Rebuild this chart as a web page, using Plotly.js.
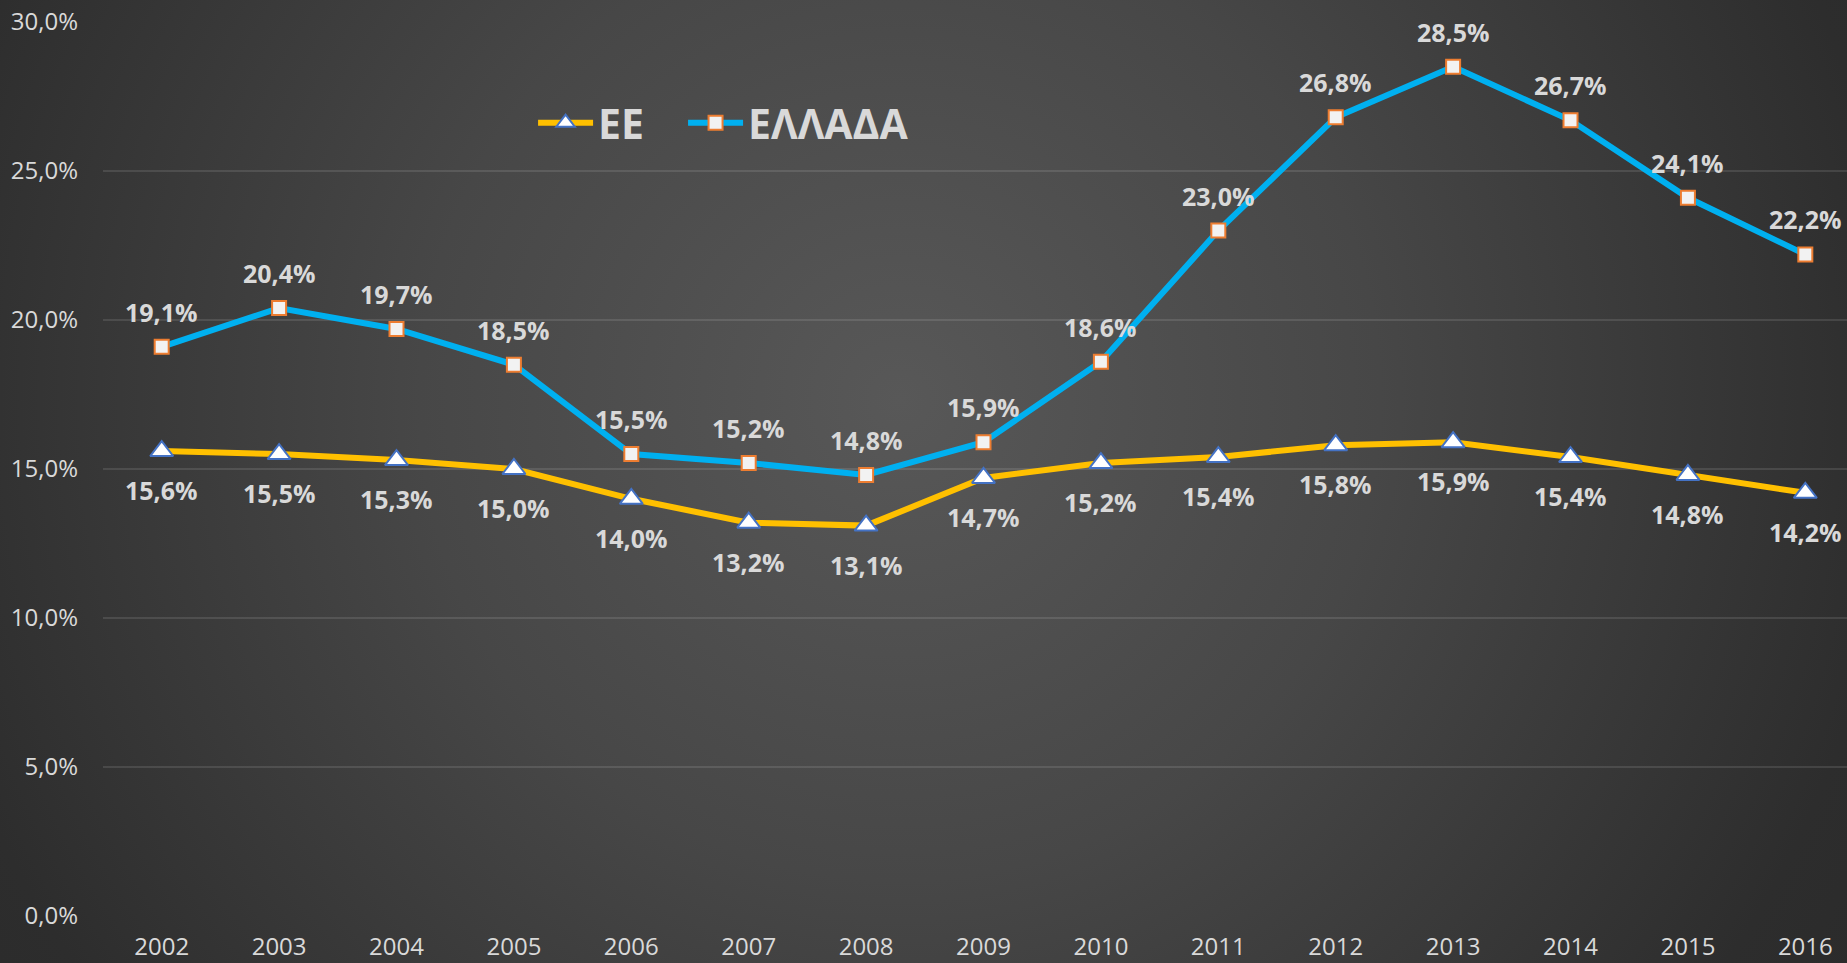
<!DOCTYPE html>
<html>
<head>
<meta charset="utf-8">
<script src="https://cdn.plot.ly/plotly-3.0.1.min.js"></script>
<style>
html, body { margin:0; padding:0; width:1847px; height:963px; overflow:hidden;
  background: radial-gradient(circle at 900px 400px, #585858 0px, #474747 480px, #2d2d2d 1000px, #282828 1300px); }
#chart { width:1847px; height:963px; }
</style>
</head>
<body>
<div id="chart"></div>
<script>
const years = ['2002','2003','2004','2005','2006','2007','2008','2009','2010','2011','2012','2013','2014','2015','2016'];
const euValues = [15.6, 15.5, 15.3, 15.0, 14.0, 13.2, 13.1, 14.7, 15.2, 15.4, 15.8, 15.9, 15.4, 14.8, 14.2];
const greeceValues = [19.1, 20.4, 19.7, 18.5, 15.5, 15.2, 14.8, 15.9, 18.6, 23.0, 26.8, 28.5, 26.7, 24.1, 22.2];
const seriesNames = ['ΕΕ', 'ΕΛΛΑΔΑ'];
const yTickVals = [0, 5, 10, 15, 20, 25, 30];

const fmt = v => v.toFixed(1).replace('.', ',') + '%';

const traces = [
  {
    x: years, y: euValues, name: seriesNames[0], type: 'scatter', mode: 'lines+markers',
    line: {color: '#FFC000', width: 6},
    marker: {symbol: 'triangle-up', size: 20, color: '#FFFFFF', line: {color: '#4472C4', width: 2}},
    hoverinfo: 'skip', legend: 'legend'
  },
  {
    x: years, y: greeceValues, name: seriesNames[1], type: 'scatter', mode: 'lines+markers',
    line: {color: '#00B0F0', width: 6},
    marker: {symbol: 'square', size: 14, color: '#F2F2F2', line: {color: '#ED7D31', width: 2}},
    hoverinfo: 'skip', legend: 'legend2'
  }
];

const annotations = [];
years.forEach((yr, i) => {
  annotations.push({xref: 'x', yref: 'y', x: i, y: euValues[i], text: '<b>' + fmt(euValues[i]) + '</b>', showarrow: false,
    xanchor: 'center', yanchor: 'middle', yshift: -39,
    font: {family: 'Open Sans, sans-serif', size: 25, color: '#D9D9D9'}});
  annotations.push({xref: 'x', yref: 'y', x: i, y: greeceValues[i], text: '<b>' + fmt(greeceValues[i]) + '</b>', showarrow: false,
    xanchor: 'center', yanchor: 'middle', yshift: 35,
    font: {family: 'Open Sans, sans-serif', size: 25, color: '#D9D9D9'}});
});

const legendFont = {size: 41, color: '#D9D9D9', family: 'Open Sans, sans-serif', weight: 'bold'};

const layout = {
  width: 1847, height: 963,
  paper_bgcolor: 'rgba(0,0,0,0)', plot_bgcolor: 'rgba(0,0,0,0)',
  margin: {l: 103, r: 0, t: 22, b: 47},
  font: {family: 'Open Sans, sans-serif', color: '#D9D9D9'},
  showlegend: true,
  legend: {
    orientation: 'h', x: 0.2466, y: 0.887, xanchor: 'left', yanchor: 'middle',
    font: legendFont, bgcolor: 'rgba(0,0,0,0)', itemwidth: 55
  },
  legend2: {
    orientation: 'h', x: 0.3326, y: 0.887, xanchor: 'left', yanchor: 'middle',
    font: legendFont, bgcolor: 'rgba(0,0,0,0)', itemwidth: 55
  },
  xaxis: {
    type: 'category', range: [-0.5, 14.355], showgrid: false, zeroline: false,
    showline: false, ticks: '', tickfont: {size: 24, color: '#D9D9D9'},
    ticklabelstandoff: 14, fixedrange: true
  },
  yaxis: {
    range: [0, 30], tickvals: yTickVals, ticktext: yTickVals.map(v => v.toFixed(1).replace('.', ',') + '%'),
    showgrid: true, gridcolor: 'rgba(255,255,255,0.11)', gridwidth: 1.5, zeroline: false,
    showline: false, ticks: '', tickfont: {size: 24, color: '#D9D9D9'},
    ticklabelstandoff: 24, fixedrange: true
  },
  annotations: annotations
};

Plotly.newPlot('chart', traces, layout, {displayModeBar: false});
</script>
</body>
</html>
